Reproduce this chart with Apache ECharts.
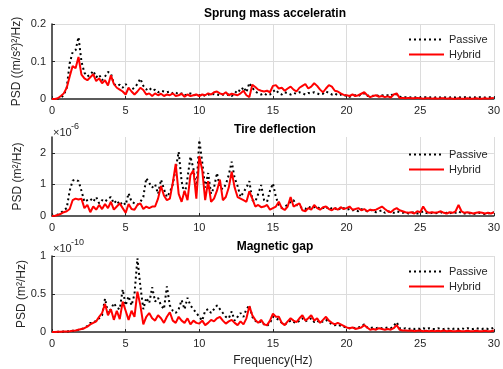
<!DOCTYPE html>
<html>
<head>
<meta charset="utf-8">
<script src="https://cdn.jsdelivr.net/npm/echarts@6/dist/echarts.min.js"></script>
<style>
  html, body { margin: 0; padding: 0; background: #fff; }
  #chart { width: 503px; height: 369px; }
</style>
</head>
<body>
<div id="chart"></div>
<script>
// PSD samples every 0.2 Hz, 0 .. 30 Hz
const accPassive = [
  0, 0, 0.001, 0.004, 0.01, 0.03, 0.095, 0.125, 0.13, 0.165,
  0.1, 0.07, 0.06, 0.065, 0.075, 0.058, 0.065, 0.05, 0.06, 0.072,
  0.068, 0.04, 0.035, 0.038, 0.03, 0.04, 0.028, 0.025, 0.03, 0.04,
  0.054, 0.035, 0.025, 0.03, 0.022, 0.025, 0.018, 0.022, 0.02, 0.018,
  0.02, 0.015, 0.018, 0.012, 0.015, 0.01, 0.012, 0.015, 0.01, 0.012,
  0.01, 0.012, 0.008, 0.012, 0.01, 0.014, 0.012, 0.01, 0.012, 0.01,
  0.012, 0.008, 0.014, 0.025, 0.02, 0.032, 0.018, 0.043, 0.03, 0.02,
  0.015, 0.012, 0.015, 0.01, 0.012, 0.02, 0.025, 0.015, 0.012, 0.018,
  0.015, 0.012, 0.016, 0.014, 0.018, 0.015, 0.012, 0.016, 0.015, 0.018,
  0.015, 0.012, 0.014, 0.02, 0.016, 0.012, 0.015, 0.01, 0.012, 0.008,
  0.01, 0.006, 0.008, 0.01, 0.008, 0.012, 0.015, 0.008, 0.01, 0.008,
  0.01, 0.008, 0.01, 0.008, 0.01, 0.008, 0.015, 0.012, 0.006, 0.005,
  0.005, 0.004, 0.005, 0.004, 0.005, 0.004, 0.005, 0.005, 0.004, 0.005,
  0.004, 0.005, 0.004, 0.005, 0.004, 0.004, 0.005, 0.004, 0.005, 0.004,
  0.005, 0.004, 0.004, 0.005, 0.004, 0.005, 0.004, 0.004, 0.005, 0.005,
  0.006
];
const accHybrid = [
  0, 0, 0.002, 0.008, 0.015, 0.03, 0.06, 0.088, 0.082, 0.112,
  0.065, 0.055, 0.05, 0.058, 0.066, 0.048, 0.055, 0.042, 0.05, 0.036,
  0.063, 0.04, 0.03, 0.025, 0.02, 0.012, 0.03, 0.02, 0.012, 0.02,
  0.03, 0.024, 0.012, 0.015, 0.008, 0.015, 0.01, 0.014, 0.008, 0.012,
  0.01, 0.015, 0.008, 0.01, 0.014, 0.006, 0.012, 0.008, 0.01, 0.012,
  0.008, 0.012, 0.01, 0.015, 0.012, 0.018, 0.02, 0.015, 0.012, 0.018,
  0.01, 0.014, 0.012, 0.01, 0.015, 0.022, 0.01, 0.005, 0.038, 0.032,
  0.025, 0.022, 0.02, 0.022, 0.018, 0.035, 0.037, 0.028, 0.03, 0.022,
  0.028, 0.033, 0.025, 0.02, 0.03, 0.035, 0.04, 0.028, 0.033, 0.042,
  0.035, 0.025, 0.018, 0.028, 0.037, 0.033, 0.022, 0.02, 0.015, 0.011,
  0.01, 0.008, 0.012, 0.008, 0.01, 0.014, 0.018, 0.01, 0.005, 0.008,
  0.01, 0.006, 0.008, 0.005, 0.007, 0.004, 0.012, 0.015, 0.003, 0.003,
  0.002, 0.003, 0.002, 0.002, 0.003, 0.002, 0.001, 0.002, 0.002, 0.001,
  0.002, 0.001, 0.002, 0.002, 0.001, 0.002, 0.001, 0.001, 0.002, 0.001,
  0.001, 0.002, 0.001, 0.001, 0.002, 0.001, 0.001, 0.002, 0.001, 0.002,
  0.003
];
// tire deflection, x1e-6 m^2/Hz
const tirePassive = [
  0, 0.01, 0.05, 0.1, 0.18, 0.25, 0.8, 1.12, 1.15, 1.1,
  0.8, 0.45, 0.5, 0.55, 0.45, 0.6, 0.4, 0.5, 0.45, 0.55,
  0.6, 0.4, 0.5, 0.35, 0.45, 0.35, 0.72, 0.45, 0.4, 0.35,
  0.45, 0.6, 1.2, 1.05, 0.9, 1.0, 0.7, 1.15, 0.85, 0.6,
  0.75, 1.0, 1.5, 2.03, 1.1, 0.65, 1.2, 1.88, 1.5, 0.8,
  2.4, 1.7, 0.9, 1.36, 0.7, 0.9, 1.36, 0.9, 0.85, 1.0,
  1.3, 1.72, 1.2, 0.95, 0.6, 0.75, 0.9, 1.1, 0.5, 0.45,
  0.7, 0.98, 0.5, 0.45, 0.8, 1.03, 0.6, 0.35, 0.25, 0.3,
  0.35, 0.45, 0.5, 0.35, 0.3, 0.25, 0.22, 0.3, 0.25, 0.28,
  0.3, 0.22, 0.25, 0.3, 0.2, 0.25, 0.22, 0.28, 0.2, 0.25,
  0.2, 0.22, 0.18, 0.2, 0.15, 0.22, 0.18, 0.15, 0.2, 0.15,
  0.12, 0.15, 0.18, 0.1, 0.15, 0.12, 0.1, 0.15, 0.12, 0.1,
  0.12, 0.08, 0.1, 0.12, 0.08, 0.1, 0.15, 0.1, 0.08, 0.1,
  0.08, 0.1, 0.12, 0.08, 0.1, 0.08, 0.12, 0.1, 0.15, 0.1,
  0.08, 0.1, 0.08, 0.06, 0.08, 0.1, 0.08, 0.06, 0.08, 0.1,
  0.12
];
const tireHybrid = [
  0, 0.01, 0.03, 0.07, 0.12, 0.15, 0.22, 0.5, 0.55, 0.52,
  0.55, 0.25, 0.35, 0.12, 0.3, 0.2, 0.35, 0.22, 0.38, 0.25,
  0.45, 0.2, 0.3, 0.4, 0.25, 0.1, 0.38, 0.22, 0.2, 0.35,
  0.4, 0.22, 0.3, 0.25, 0.3, 0.3, 0.55, 0.95, 0.65, 0.5,
  0.55, 1.05, 1.65, 0.7, 0.45, 0.8, 0.5, 1.3, 1.45, 0.55,
  1.9, 1.45, 0.5, 1.1, 0.45, 0.55, 0.8, 1.15, 0.5, 0.6,
  0.9, 1.4, 0.9, 0.6, 0.55, 0.5, 0.45, 0.78, 0.55, 0.3,
  0.35, 0.28, 0.3, 0.35, 0.2, 0.25, 0.3, 0.45, 0.25, 0.19,
  0.3, 0.6, 0.3, 0.35, 0.4, 0.18, 0.15, 0.25, 0.2, 0.35,
  0.25, 0.2, 0.28, 0.3, 0.22, 0.18, 0.25, 0.2, 0.28, 0.22,
  0.25, 0.3, 0.2, 0.22, 0.25, 0.18, 0.22, 0.15, 0.2, 0.18,
  0.2, 0.25, 0.3, 0.22, 0.15, 0.12, 0.2, 0.25, 0.18, 0.15,
  0.12, 0.1, 0.12, 0.08, 0.15, 0.12, 0.3, 0.15, 0.1, 0.12,
  0.1, 0.12, 0.15, 0.1, 0.08, 0.12, 0.1, 0.15, 0.35, 0.15,
  0.1, 0.12, 0.1, 0.08, 0.1, 0.12, 0.1, 0.08, 0.1, 0.08,
  0.12
];
// magnetic gap, x1e-10 m^2/Hz
const gapPassive = [
  0, 0, 0.002, 0.004, 0.006, 0.008, 0.01, 0.015, 0.02, 0.03,
  0.04, 0.05, 0.08, 0.12, 0.12, 0.15, 0.18, 0.22, 0.44, 0.25,
  0.3, 0.38, 0.32, 0.3, 0.56, 0.35, 0.47, 0.35, 0.5, 0.97,
  0.6, 0.3, 0.45, 0.38, 0.59, 0.4, 0.45, 0.35, 0.3, 0.6,
  0.35, 0.28, 0.25, 0.3, 0.42, 0.3, 0.45, 0.35, 0.3, 0.25,
  0.2, 0.15, 0.28, 0.3, 0.25, 0.3, 0.35, 0.3, 0.25, 0.2,
  0.18, 0.27, 0.15, 0.2, 0.25, 0.2, 0.3, 0.35, 0.2, 0.15,
  0.12, 0.14, 0.1, 0.08, 0.12, 0.2, 0.18, 0.16, 0.12, 0.1,
  0.12, 0.15, 0.13, 0.12, 0.15, 0.18, 0.14, 0.16, 0.18, 0.13,
  0.15, 0.12, 0.14, 0.16, 0.13, 0.1, 0.09, 0.1, 0.08, 0.07,
  0.06, 0.05, 0.06, 0.05, 0.06, 0.07, 0.1, 0.06, 0.05, 0.06,
  0.05, 0.06, 0.05, 0.05, 0.06, 0.05, 0.08, 0.13, 0.05, 0.04,
  0.05, 0.04, 0.05, 0.04, 0.05, 0.04, 0.05, 0.04, 0.05, 0.04,
  0.04, 0.05, 0.04, 0.04, 0.05, 0.04, 0.04, 0.05, 0.04, 0.05,
  0.04, 0.05, 0.04, 0.04, 0.05, 0.04, 0.04, 0.05, 0.04, 0.04,
  0.06
];
const gapHybrid = [
  0, 0, 0.002, 0.004, 0.006, 0.008, 0.01, 0.015, 0.02, 0.03,
  0.04, 0.05, 0.07, 0.1, 0.12, 0.14, 0.2, 0.25, 0.37, 0.22,
  0.3, 0.16, 0.28, 0.17, 0.4, 0.28, 0.16, 0.28, 0.2, 0.53,
  0.35, 0.1, 0.2, 0.25, 0.18, 0.15, 0.22, 0.18, 0.12, 0.2,
  0.26, 0.15, 0.12, 0.2, 0.15, 0.12, 0.18, 0.1, 0.15, 0.12,
  0.11, 0.15, 0.09, 0.12, 0.16, 0.14, 0.18, 0.2, 0.15, 0.11,
  0.14, 0.16, 0.12, 0.09, 0.14, 0.1, 0.18, 0.34, 0.22, 0.16,
  0.12, 0.16, 0.1, 0.09, 0.15, 0.24, 0.2, 0.2, 0.12, 0.09,
  0.14, 0.18, 0.15, 0.13, 0.18, 0.22, 0.15, 0.18, 0.22, 0.15,
  0.18, 0.12, 0.16, 0.2, 0.15, 0.12, 0.1, 0.12, 0.1, 0.08,
  0.06, 0.05, 0.06, 0.04, 0.05, 0.06, 0.09, 0.06, 0.03, 0.04,
  0.03, 0.05, 0.04, 0.03, 0.04, 0.03, 0.05, 0.09, 0.03, 0.02,
  0.02, 0.015, 0.02, 0.01, 0.015, 0.02, 0.01, 0.015, 0.01, 0.015,
  0.01, 0.015, 0.01, 0.02, 0.01, 0.015, 0.01, 0.01, 0.015, 0.01,
  0.01, 0.015, 0.01, 0.01, 0.015, 0.01, 0.01, 0.015, 0.01, 0.01,
  0.02
];
const freq = accHybrid.map((_, i) => +(i * 0.2).toFixed(1));
const titles = ["Sprung mass acceleratin", "Tire deflection", "Magnetic gap"];
const yNames = ["PSD ((m/s\u00b2)\u00b2/Hz)", "PSD (m\u00b2/Hz)", "PSD (m\u00b2/Hz)"];

const FONT = "Liberation Sans, Arial, sans-serif";
const INK = "#262626";
const GRIDC = "#dcdcdc";

const pairs = (vals) => vals.map((v, i) => [freq[i], v]);

const grids = [
  { left: 52, top: 24, width: 446, height: 75 },
  { left: 52, top: 137, width: 446, height: 79 },
  { left: 52, top: 256, width: 446, height: 76 },
];
const yRanges = [
  { max: 0.2, interval: 0.1 },
  { max: 2.5, interval: 1 },
  { max: 1, interval: 0.5 },
];
const nameGaps = [29, 28, 24];
const titleTops = [8, 124, 241];
const legendTops = [34, 149, 266];

const chart = echarts.init(document.getElementById("chart"), null, { renderer: "canvas" });

const option = {
  animation: false,
  backgroundColor: "#fff",
  textStyle: { fontFamily: FONT },
  grid: grids,
  title: titles.map((t, i) => ({
    text: t,
    left: 275,
    top: titleTops[i],
    textAlign: "center",
    padding: 0,
    textStyle: { fontSize: 12, fontWeight: "bold", color: "#000", fontFamily: FONT },
  })),
  legend: legendTops.map((top) => ({
    data: ["Passive", "Hybrid"],
    orient: "vertical",
    left: 408,
    top: top,
    padding: 0,
    itemWidth: 35,
    itemHeight: 10,
    itemGap: 4,
    selectedMode: false,
    itemStyle: { opacity: 0 },
    textStyle: { fontSize: 11, color: INK, fontFamily: FONT },
  })),
  xAxis: grids.map((g, i) => ({
    type: "value",
    gridIndex: i,
    min: 0,
    max: 30,
    interval: 5,
    name: i === 2 ? "Frequency(Hz)" : "",
    nameLocation: "middle",
    nameGap: 23,
    nameMoveOverlap: false,
    nameTextStyle: { fontSize: 12, color: INK, fontFamily: FONT },
    axisLine: { lineStyle: { color: INK, width: 1.5 } },
    axisTick: { inside: true, length: 3, lineStyle: { color: INK } },
    axisLabel: { fontSize: 11, color: INK, margin: 6, fontFamily: FONT },
    splitLine: { show: true, showMinLine: false, lineStyle: { color: GRIDC, width: 1 } },
  })),
  yAxis: grids.map((g, i) => ({
    type: "value",
    gridIndex: i,
    min: 0,
    max: yRanges[i].max,
    interval: yRanges[i].interval,
    name: yNames[i],
    nameLocation: "middle",
    nameGap: nameGaps[i],
    nameMoveOverlap: false,
    nameTextStyle: { fontSize: 12, color: INK, fontFamily: FONT },
    axisLine: { show: true, lineStyle: { color: INK, width: 1.5 } },
    axisTick: { show: true, inside: true, length: 3, lineStyle: { color: INK } },
    axisLabel: { fontSize: 11, color: INK, margin: 6, fontFamily: FONT, showMaxLabel: i !== 1 },
    splitLine: { show: true, showMinLine: false, showMaxLine: i !== 1, lineStyle: { color: GRIDC, width: 1 } },
  })),
  series: [
    [accPassive, accHybrid],
    [tirePassive, tireHybrid],
    [gapPassive, gapHybrid],
  ].flatMap((pair, i) => [
    {
      name: "Passive",
      type: "line",
      xAxisIndex: i,
      yAxisIndex: i,
      data: pairs(pair[0]),
      symbol: "none",
      showSymbol: false,
      silent: true,
      lineStyle: { color: "#000", width: 2, type: [2, 3] },
      itemStyle: { color: "#000" },
    },
    {
      name: "Hybrid",
      type: "line",
      xAxisIndex: i,
      yAxisIndex: i,
      data: pairs(pair[1]),
      symbol: "none",
      showSymbol: false,
      silent: true,
      lineStyle: { color: "#ff0000", width: 2 },
      itemStyle: { color: "#ff0000" },
    },
  ]),
  graphic: [
    { type: "text", left: 53, top: 127, style: { text: "\u00d710", fontSize: 11, fill: INK, fontFamily: FONT } },
    { type: "text", left: 71, top: 122, style: { text: "-6", fontSize: 9, fill: INK, fontFamily: FONT } },
    { type: "text", left: 53, top: 243, style: { text: "\u00d710", fontSize: 11, fill: INK, fontFamily: FONT } },
    { type: "text", left: 71, top: 238, style: { text: "-10", fontSize: 9, fill: INK, fontFamily: FONT } },
  ],
};

chart.setOption(option);
</script>
</body>
</html>
